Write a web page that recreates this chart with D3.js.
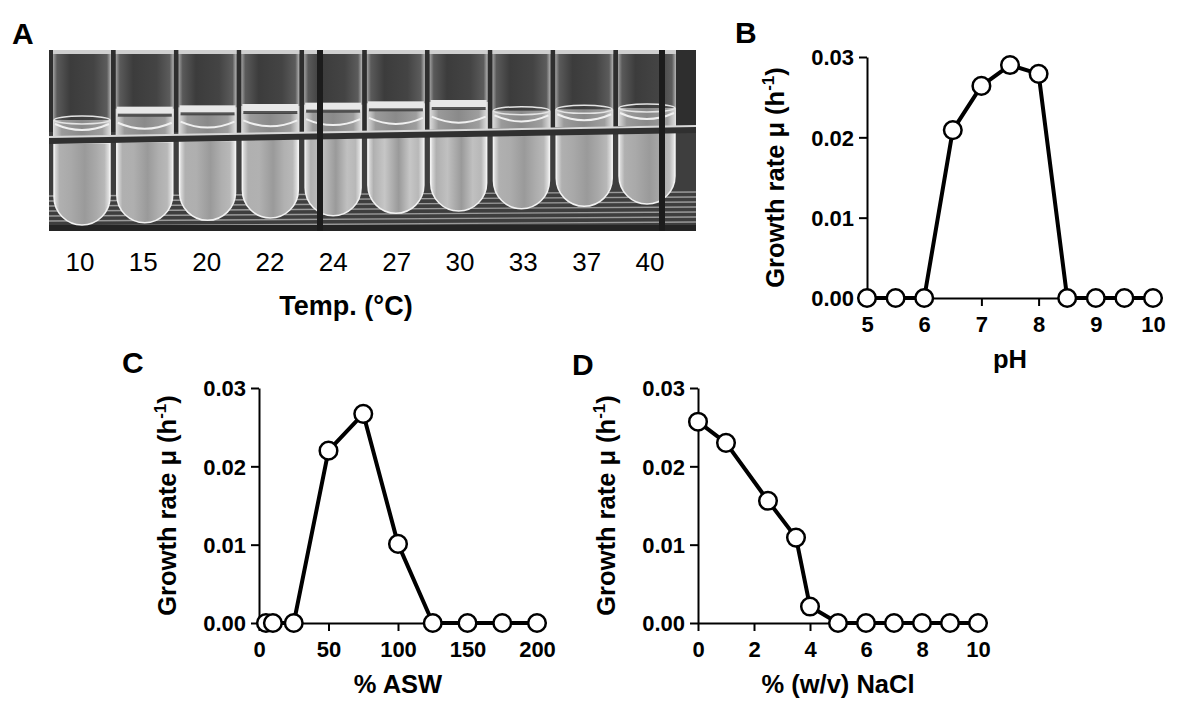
<!DOCTYPE html>
<html>
<head>
<meta charset="utf-8">
<script src="https://cdn.jsdelivr.net/npm/d3@7"></script>
<style>
  html, body { margin: 0; padding: 0; background: #fff; }
  svg { display: block; }
  text { font-family: "Liberation Sans", Arial, Helvetica, sans-serif; }
</style>
</head>
<body>
<svg id="fig" width="1183" height="717"></svg>
<script>
// ---------------- DATA ----------------
// Panel A (photograph of cultures at each temperature)
const tempLabels = ["10", "15", "20", "22", "24", "27", "30", "33", "37", "40"];
const tempPellicle = [0, 1, 1, 1, 1, 1, 1, 0, 0, 0];       // visible growth layer at surface
const tempTurbidity = [0.15, 0.25, 0.25, 0.3, 0.55, 0.65, 0.55, 0.2, 0.15, 0.15];

// Panel B: pH
const phX = [5, 5.5, 6, 6.5, 7, 7.5, 8, 8.5, 9, 9.5, 10];
const phY = [0, 0, 0, 0.0209, 0.0264, 0.0290, 0.0279, 0, 0, 0, 0];
const phTicks = [5, 6, 7, 8, 9, 10];

// Panel C: % ASW
const aswX = [5, 10, 25, 50, 75, 100, 125, 150, 175, 200];
const aswY = [0, 0, 0, 0.0220, 0.0267, 0.0101, 0, 0, 0, 0];
const aswTicks = [0, 50, 100, 150, 200];

// Panel D: % (w/v) NaCl
const naclX = [0, 1, 2.5, 3.5, 4, 5, 6, 7, 8, 9, 10];
const naclY = [0.0257, 0.0230, 0.0156, 0.0109, 0.0021, 0, 0, 0, 0, 0, 0];
const naclTicks = [0, 2, 4, 6, 8, 10];

const yTicks = [0, 0.01, 0.02, 0.03];

// ---------------- DRAW ----------------
const svg = d3.select("#fig");
const defs = svg.append("defs");

// ---- Panel A: schematic of photo ----
const photo = {x: 49, y: 50, w: 647, h: 181};
const gA = svg.append("g");
const clip = defs.append("clipPath").attr("id", "photoClip");
clip.append("rect").attr("x", photo.x).attr("y", photo.y).attr("width", photo.w).attr("height", photo.h);
gA.attr("clip-path", "url(#photoClip)");
gA.append("rect").attr("x", photo.x).attr("y", photo.y).attr("width", photo.w).attr("height", photo.h).attr("fill", "#2c2c2c");

const tubeX = d3.scalePoint().domain(tempLabels).range([82, 647]);
const labelX = d3.scalePoint().domain(tempLabels).range([80, 650]);
const idx = d3.scaleLinear().domain([0, tempLabels.length - 1]);
const rackY = idx.copy().range([137, 126]);      // top of horizontal rack bar
const surfY = idx.copy().range([120, 108]);      // liquid surface (upper part)
const botY = idx.copy().range([225, 204]);       // rounded bottoms
const tubeW = 58;

// gradients
const gUp = defs.append("linearGradient").attr("id", "gUp").attr("x1", 0).attr("x2", 1).attr("y1", 0).attr("y2", 0);
[["0%", "#a0a0a0"], ["7%", "#5a5a5a"], ["30%", "#3c3c3c"], ["70%", "#444"], ["93%", "#5c5c5c"], ["100%", "#b4b4b4"]]
  .forEach(s => gUp.append("stop").attr("offset", s[0]).attr("stop-color", s[1]));
const gLiq = defs.append("linearGradient").attr("id", "gLiq").attr("x1", 0).attr("x2", 1).attr("y1", 0).attr("y2", 0);
[["0%", "#dedede"], ["15%", "#9a9a9a"], ["50%", "#8a8a8a"], ["85%", "#9e9e9e"], ["100%", "#e2e2e2"]]
  .forEach(s => gLiq.append("stop").attr("offset", s[0]).attr("stop-color", s[1]));
tempTurbidity.forEach((t, i) => {
  const g = defs.append("linearGradient").attr("id", "gLow" + i).attr("x1", 0).attr("x2", 1).attr("y1", 0).attr("y2", 0);
  const mid = d3.interpolateRgb("#a0a0a0", "#dadada")(t);
  [["0%", "#e6e6e6"], ["10%", "#b0b0b0"], ["30%", mid], ["55%", "#9a9a9a"], ["75%", mid], ["90%", "#b8b8b8"], ["100%", "#ececec"]]
    .forEach(s => g.append("stop").attr("offset", s[0]).attr("stop-color", s[1]));
});

// upper background
gA.append("rect").attr("x", photo.x).attr("y", photo.y).attr("width", photo.w).attr("height", 90).attr("fill", "#2e2e2e");
// lower background
gA.append("rect").attr("x", photo.x).attr("y", 132).attr("width", photo.w).attr("height", photo.y + photo.h - 132).attr("fill", "#3e3e3e");
// rack grid at bottom
const gridRows = d3.range(7);
gA.selectAll(".grid").data(gridRows).join("line")
  .attr("x1", photo.x).attr("x2", photo.x + photo.w)
  .attr("y1", d => 196 + d * 5).attr("y2", d => 192 + d * 5)
  .attr("stroke", "#9a9a9a").attr("stroke-width", 1.4);
gA.append("rect").attr("x", photo.x).attr("y", 225).attr("width", photo.w).attr("height", 6).attr("fill", "#242424");

// upper tubes
const up = gA.selectAll(".up").data(tempLabels).join("g");
up.append("rect")
  .attr("x", d => tubeX(d) - tubeW / 2).attr("y", photo.y)
  .attr("width", tubeW).attr("height", (d, i) => rackY(i) - photo.y)
  .attr("fill", "url(#gUp)");
up.append("rect")
  .attr("x", d => tubeX(d) - tubeW / 2).attr("y", (d, i) => surfY(i) - (tempPellicle[i] ? 10 : 0))
  .attr("width", tubeW).attr("height", (d, i) => rackY(i) - surfY(i) + (tempPellicle[i] ? 10 : 0))
  .attr("fill", "url(#gLiq)");
// growth layer (pellicle)
up.append("rect")
  .attr("x", d => tubeX(d) - tubeW / 2 + 1)
  .attr("y", (d, i) => surfY(i) - 12)
  .attr("width", tubeW - 2).attr("height", 9)
  .attr("fill", "#e8e8e8")
  .attr("opacity", (d, i) => tempPellicle[i]);
up.append("rect")
  .attr("x", d => tubeX(d) - tubeW / 2 + 2)
  .attr("y", (d, i) => surfY(i) - 5)
  .attr("width", tubeW - 4).attr("height", 3)
  .attr("fill", "#303030")
  .attr("opacity", (d, i) => tempPellicle[i] * 0.8);
// meniscus curve
up.append("path")
  .attr("d", (d, i) => {
    const c = tubeX(d), r = tubeW / 2 - 2, yy = rackY(i) - 10;
    return `M${c - r},${yy - 3} Q${c},${yy + 9} ${c + r},${yy - 3}`;
  })
  .attr("fill", "none").attr("stroke", "#f0f0f0").attr("stroke-width", 2);
up.append("ellipse")
  .attr("cx", d => tubeX(d)).attr("cy", (d, i) => surfY(i))
  .attr("rx", tubeW / 2 - 1).attr("ry", 4)
  .attr("fill", "none").attr("stroke", "#e4e4e4").attr("stroke-width", 1.5)
  .attr("opacity", (d, i) => 1 - tempPellicle[i]);
// rims at top
gA.selectAll(".rim").data(tempLabels).join("rect")
  .attr("x", d => tubeX(d) - tubeW / 2).attr("y", photo.y)
  .attr("width", tubeW).attr("height", 4).attr("fill", "#cfcfcf");

// lower tubes (rounded bottoms)
gA.selectAll(".low").data(tempLabels).join("path")
  .attr("d", (d, i) => {
    const c = tubeX(d), r = tubeW / 2 - 1, top = rackY(i) + 6, b = botY(i);
    return `M${c - r},${top} V${b - r} A${r},${r} 0 0 0 ${c + r},${b - r} V${top} Z`;
  })
  .attr("fill", (d, i) => `url(#gLow${i})`)
  .attr("stroke", "#f2f2f2").attr("stroke-width", 1.5);

// horizontal rack bar
gA.append("path")
  .attr("d", `M${photo.x},${rackY(0)} L${photo.x + photo.w},${rackY(9)} L${photo.x + photo.w},${rackY(9) + 7} L${photo.x},${rackY(0) + 7} Z`)
  .attr("fill", "#303030");
gA.append("line")
  .attr("x1", photo.x).attr("y1", rackY(0)).attr("x2", photo.x + photo.w).attr("y2", rackY(9))
  .attr("stroke", "#d8d8d8").attr("stroke-width", 2);
// vertical posts
[320, 662].forEach(px => {
  gA.append("rect").attr("x", px - 3).attr("y", photo.y).attr("width", 6).attr("height", photo.h).attr("fill", "#1c1c1c");
});

// labels
svg.selectAll(".tl").data(tempLabels).join("text")
  .attr("x", d => labelX(d)).attr("y", 271)
  .attr("text-anchor", "middle").attr("font-size", 26).attr("fill", "#000")
  .text(d => d);
svg.append("text").attr("x", 346).attr("y", 315).attr("text-anchor", "middle")
  .attr("font-size", 27).attr("font-weight", "bold").text("Temp. (°C)");

// ---- Panel letters ----
[["A", 12, 44], ["B", 735, 43], ["C", 122, 373], ["D", 572, 375]].forEach(p => {
  svg.append("text").attr("x", p[1]).attr("y", p[2]).attr("font-size", 30)
    .attr("font-weight", "bold").text(p[0]);
});

// ---- Line panels ----
function panel(cfg) {
  const x = d3.scaleLinear().domain(cfg.xDomain).range(cfg.xRange);
  const y = d3.scaleLinear().domain([0, 0.03]).range(cfg.yRange);
  const g = svg.append("g");

  const xa = g.append("g").attr("transform", `translate(0,${cfg.yRange[0]})`)
    .call(d3.axisBottom(x).tickValues(cfg.xTicks).tickSize(8).tickSizeOuter(0).tickPadding(10).tickFormat(d3.format("d")));
  const ya = g.append("g").attr("transform", `translate(${cfg.xRange[0]},0)`)
    .call(d3.axisLeft(y).tickValues(yTicks).tickSize(8).tickSizeOuter(0).tickPadding(5).tickFormat(d3.format(".2f")));
  [xa, ya].forEach(a => {
    a.selectAll("path, line").attr("stroke", "#000").attr("stroke-width", 2);
    a.selectAll("text").attr("font-size", 22).attr("font-weight", "bold").attr("fill", "#000")
      .attr("font-family", '"Liberation Sans", Arial, sans-serif');
  });
  ya.selectAll("text").attr("dy", "0.36em");

  const pts = cfg.xs.map((v, i) => [v, cfg.ys[i]]);
  g.append("path").datum(pts)
    .attr("d", d3.line().x(d => x(d[0])).y(d => y(d[1])))
    .attr("fill", "none").attr("stroke", "#000").attr("stroke-width", 4).attr("stroke-linejoin", "round");
  g.selectAll("circle").data(pts).join("circle")
    .attr("cx", d => x(d[0])).attr("cy", d => y(d[1])).attr("r", 8.8)
    .attr("fill", "#fff").attr("stroke", "#000").attr("stroke-width", 2.5);

  // axis titles
  const cx = (cfg.xRange[0] + cfg.xRange[1]) / 2;
  g.append("text").attr("x", cx).attr("y", cfg.yRange[0] + 70).attr("text-anchor", "middle")
    .attr("font-size", 25.5).attr("font-weight", "bold").text(cfg.xTitle);
  const cy = (cfg.yRange[0] + cfg.yRange[1]) / 2;
  const yt = g.append("text")
    .attr("transform", `translate(${cfg.xRange[0] - 83},${cy}) rotate(-90)`)
    .attr("text-anchor", "middle").attr("font-size", 25.5).attr("font-weight", "bold");
  yt.append("tspan").text("Growth rate μ (h");
  yt.append("tspan").attr("font-size", 17).attr("dy", -10).text("-1");
  yt.append("tspan").attr("dy", 10).text(")");
}

panel({xDomain: [5, 10], xRange: [867, 1153], yRange: [298, 57], xTicks: phTicks,
       xs: phX, ys: phY, xTitle: "pH"});
panel({xDomain: [0, 200], xRange: [259, 537], yRange: [623, 388], xTicks: aswTicks,
       xs: aswX, ys: aswY, xTitle: "% ASW"});
panel({xDomain: [0, 10], xRange: [698, 978], yRange: [623, 388], xTicks: naclTicks,
       xs: naclX, ys: naclY, xTitle: "% (w/v) NaCl"});
</script>
</body>
</html>
